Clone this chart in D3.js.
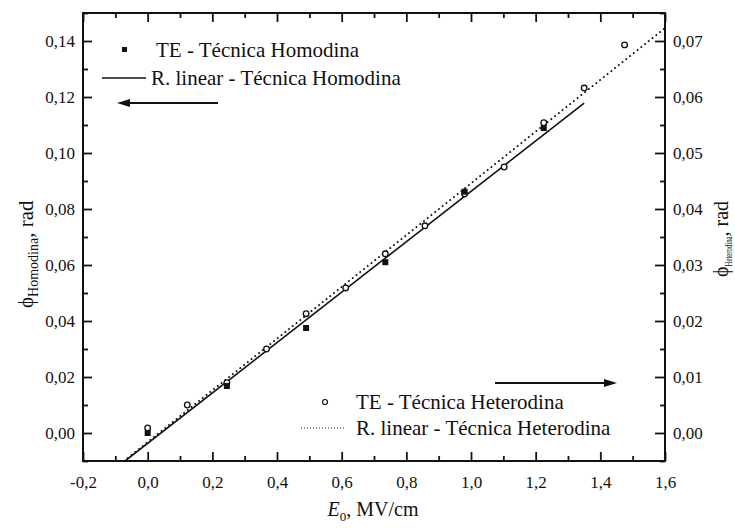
<!DOCTYPE html>
<html>
<head>
<meta charset="utf-8">
<script src="https://cdn.jsdelivr.net/npm/d3@7"></script>
<style>
  body { margin: 0; background: #fff; }
  svg { display: block; }
  text { font-family: "Liberation Serif", "Times New Roman", serif; fill: #111; }
</style>
</head>
<body>
<svg id="chart" width="735" height="528"></svg>
<script>
// Electro-optic phase vs. applied field, homodyne (left axis) and heterodyne (right axis)
const homodinaE   = [0, 0.245, 0.49, 0.735, 0.98, 1.225];
const homodinaPhi = [0.0000, 0.0168, 0.0375, 0.0610, 0.0862, 0.1089];

const heterodinaE   = [0, 0.1225, 0.245, 0.3675, 0.49, 0.6125, 0.735, 0.8575, 0.98, 1.1025, 1.225, 1.35, 1.475];
const heterodinaPhi = [0.0009, 0.0050, 0.0090, 0.0150, 0.0213, 0.0259, 0.0320, 0.0370, 0.0427, 0.0475, 0.0554, 0.0616, 0.0693];

// Linear regression lines, given by their end points
const fitHomodinaE     = [-0.07, 1.35];
const fitHomodinaPhi   = [-0.0100, 0.1178];
const fitHeterodinaE   = [-0.075, 1.6];
const fitHeterodinaPhi = [-0.0051, 0.0723];

// Tick values
const xTicks      = [-0.2, 0.0, 0.2, 0.4, 0.6, 0.8, 1.0, 1.2, 1.4, 1.6];
const xMinor      = [-0.1, 0.1, 0.3, 0.5, 0.7, 0.9, 1.1, 1.3, 1.5];
const yLeftTicks  = [0.00, 0.02, 0.04, 0.06, 0.08, 0.10, 0.12, 0.14];
const yLeftMinor  = [-0.01, 0.01, 0.03, 0.05, 0.07, 0.09, 0.11, 0.13, 0.15];
const yRightTicks = [0.00, 0.01, 0.02, 0.03, 0.04, 0.05, 0.06, 0.07];
const yRightMinor = [-0.005, 0.005, 0.015, 0.025, 0.035, 0.045, 0.055, 0.065, 0.075];

const svg = d3.select("#chart");
const L = 83, R = 665, T = 13, B = 461;

const x  = d3.scaleLinear().domain([-0.2, 1.6]).range([L, R]);
const yL = d3.scaleLinear().domain([-0.01, 0.15]).range([B, T]);
const yR = d3.scaleLinear().domain([-0.005, 0.075]).range([B, T]);

const comma = d => d.replace(".", ",").replace("\u2212", "-");
const fx = v => comma(d3.format(".1f")(v));
const fy = v => comma(d3.format(".2f")(v));

svg.append("defs").append("clipPath").attr("id", "plot")
  .append("rect").attr("x", L).attr("y", T).attr("width", R - L).attr("height", B - T);

function styleAxis(g) {
  g.select(".domain").remove();
  g.selectAll(".tick line").attr("stroke", "#111").attr("stroke-width", 1.8);
  g.selectAll(".tick text")
    .attr("font-family", "Liberation Serif, Times New Roman, serif")
    .attr("font-size", 17).attr("fill", "#111");
}

// bottom axis
svg.append("g").attr("transform", `translate(0,${B})`)
  .call(d3.axisBottom(x).tickValues(xTicks).tickFormat(fx).tickSize(-9).tickSizeOuter(0).tickPadding(15))
  .call(styleAxis);
svg.append("g").attr("transform", `translate(0,${B})`)
  .call(d3.axisBottom(x).tickValues(xMinor).tickFormat(() => "").tickSize(-5).tickSizeOuter(0))
  .call(styleAxis);

// top axis (ticks only)
svg.append("g").attr("transform", `translate(0,${T})`)
  .call(d3.axisTop(x).tickValues(xTicks).tickFormat(() => "").tickSize(-9).tickSizeOuter(0))
  .call(styleAxis);
svg.append("g").attr("transform", `translate(0,${T})`)
  .call(d3.axisTop(x).tickValues(xMinor).tickFormat(() => "").tickSize(-5).tickSizeOuter(0))
  .call(styleAxis);

// left axis
svg.append("g").attr("transform", `translate(${L},0)`)
  .call(d3.axisLeft(yL).tickValues(yLeftTicks).tickFormat(fy).tickSize(-9).tickSizeOuter(0).tickPadding(8))
  .call(styleAxis);
svg.append("g").attr("transform", `translate(${L},0)`)
  .call(d3.axisLeft(yL).tickValues(yLeftMinor).tickFormat(() => "").tickSize(-5).tickSizeOuter(0))
  .call(styleAxis);

// right axis
svg.append("g").attr("transform", `translate(${R},0)`)
  .call(d3.axisRight(yR).tickValues(yRightTicks).tickFormat(fy).tickSize(-10).tickSizeOuter(0).tickPadding(8))
  .call(styleAxis);
svg.append("g").attr("transform", `translate(${R},0)`)
  .call(d3.axisRight(yR).tickValues(yRightMinor).tickFormat(() => "").tickSize(-5).tickSizeOuter(0))
  .call(styleAxis);

// frame
svg.append("rect").attr("x", L).attr("y", T).attr("width", R - L).attr("height", B - T)
  .attr("fill", "none").attr("stroke", "#111").attr("stroke-width", 2);

// regression lines
const plot = svg.append("g").attr("clip-path", "url(#plot)");
plot.append("path")
  .datum(d3.zip(fitHomodinaE, fitHomodinaPhi))
  .attr("d", d3.line().x(d => x(d[0])).y(d => yL(d[1])))
  .attr("fill", "none").attr("stroke", "#111").attr("stroke-width", 1.6);
plot.append("path")
  .datum(d3.zip(fitHeterodinaE, fitHeterodinaPhi))
  .attr("d", d3.line().x(d => x(d[0])).y(d => yR(d[1])))
  .attr("fill", "none").attr("stroke", "#111").attr("stroke-width", 1.8)
  .attr("stroke-dasharray", "1.8,3");

// heterodyne points (open circles, right axis)
svg.append("g").selectAll("circle")
  .data(d3.zip(heterodinaE, heterodinaPhi)).join("circle")
  .attr("cx", d => x(d[0])).attr("cy", d => yR(d[1])).attr("r", 2.8)
  .attr("fill", "#fff").attr("stroke", "#111").attr("stroke-width", 1.3);

// homodyne points (filled squares, left axis)
svg.append("g").selectAll("rect")
  .data(d3.zip(homodinaE, homodinaPhi)).join("rect")
  .attr("x", d => x(d[0]) - 3).attr("y", d => yL(d[1]) - 3)
  .attr("width", 6).attr("height", 6).attr("fill", "#111");

// legend: homodyne
svg.append("rect").attr("x", 122).attr("y", 47).attr("width", 5).attr("height", 5).attr("fill", "#111");
svg.append("text").attr("x", 156).attr("y", 57).attr("font-size", 21).text("TE - Técnica Homodina");
svg.append("line").attr("x1", 102).attr("x2", 146).attr("y1", 78).attr("y2", 78)
  .attr("stroke", "#111").attr("stroke-width", 1.5);
svg.append("text").attr("x", 151).attr("y", 85).attr("font-size", 21).text("R. linear - Técnica Homodina");

// legend: heterodyne
svg.append("circle").attr("cx", 325).attr("cy", 402).attr("r", 2.5)
  .attr("fill", "#fff").attr("stroke", "#111").attr("stroke-width", 1.2);
svg.append("text").attr("x", 356).attr("y", 409).attr("font-size", 21).text("TE - Técnica Heterodina");
svg.append("line").attr("x1", 301).attr("x2", 346).attr("y1", 428).attr("y2", 428)
  .attr("stroke", "#111").attr("stroke-width", 1.2).attr("stroke-dasharray", "1,2");
svg.append("text").attr("x", 356).attr("y", 435).attr("font-size", 21).text("R. linear - Técnica Heterodina");

// axis direction arrows
function arrow(x1, x2, y) {
  const dir = Math.sign(x2 - x1);
  svg.append("line").attr("x1", x1).attr("x2", x2 - dir * 10).attr("y1", y).attr("y2", y)
    .attr("stroke", "#111").attr("stroke-width", 2);
  svg.append("path")
    .attr("d", `M${x2},${y} L${x2 - dir * 13},${y - 4} L${x2 - dir * 13},${y + 4} Z`)
    .attr("fill", "#111");
}
arrow(218, 117, 103);
arrow(495, 617, 383);

// axis titles
const xt = svg.append("text").attr("x", 373).attr("y", 516).attr("text-anchor", "middle").attr("font-size", 20);
xt.append("tspan").attr("font-style", "italic").text("E");
xt.append("tspan").attr("font-size", 13).attr("dy", 5).text("0");
xt.append("tspan").attr("dy", -5).text(", MV/cm");

const yt = svg.append("text").attr("transform", "translate(33,308) rotate(-90)").attr("font-size", 21);
yt.append("tspan").text("ϕ");
yt.append("tspan").attr("font-size", 14).attr("dy", 5).text("Homodina");
yt.append("tspan").attr("dy", -5).text(", rad");

const yt2 = svg.append("text").attr("transform", "translate(728,277) rotate(-90)").attr("font-size", 20);
yt2.append("tspan").text("ϕ");
yt2.append("tspan").attr("font-size", 11).attr("dy", 4)
  .attr("textLength", 30).attr("lengthAdjust", "spacingAndGlyphs").text("Heterodina");
yt2.append("tspan").attr("dy", -4).text(", rad");
</script>
</body>
</html>
